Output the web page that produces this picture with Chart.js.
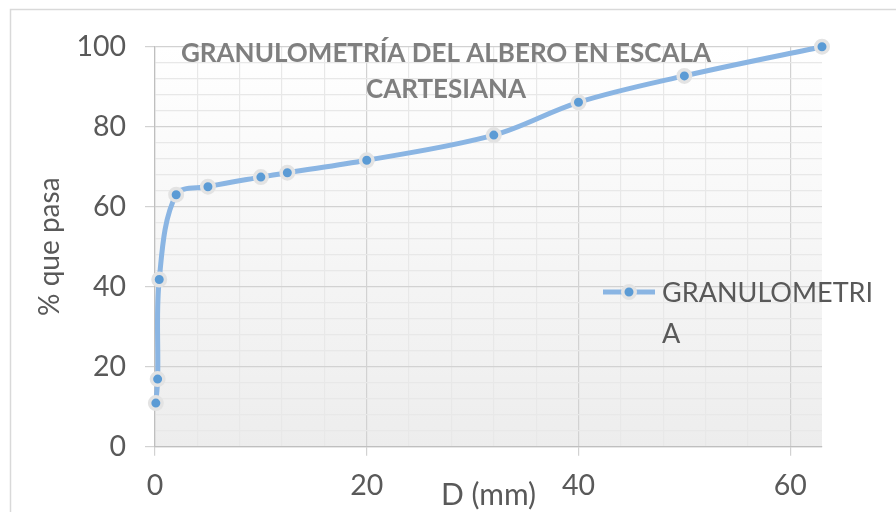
<!DOCTYPE html>
<html>
<head>
<meta charset="utf-8">
<script src="https://cdn.jsdelivr.net/npm/chart.js@4/dist/chart.umd.min.js"></script>
<style>
  html, body { margin: 0; padding: 0; background: #ffffff; }
  #wrap { position: relative; width: 896px; height: 512px; }
</style>
</head>
<body>
<div id="wrap"><canvas id="c" width="896" height="512"></canvas></div>
<script>
// Sieve openings (mm) and cumulative percentage passing
const sieveSizes = [0.08, 0.25, 0.4, 2, 5, 10, 12.5, 20, 32, 40, 50, 63];
const percentPassing = [10.9, 16.9, 41.8, 63.0, 65.0, 67.4, 68.5, 71.6, 77.9, 86.1, 92.7, 100];

// Labelled tick values
const xTickLabels = [0, 20, 40, 60];
const yTickLabels = [0, 20, 40, 60, 80, 100];

const seriesName = 'GRANULOMETRIA';
const titleLines = ['GRANULOMETRÍA DEL ALBERO EN ESCALA', 'CARTESIANA'];
const xTitle = 'D (mm)';
const yTitle = '% que pasa';

const FONT = 'Lato';
const TEXT = '#595959';
const LINE = '#8AB5E3';
const DOT = '#5B9BD5';
const RING = '#E3E3E3';
const MAJOR = '#D2D2D2';
const MINOR = '#E8E8E8';

const points = sieveSizes.map((x, i) => ({ x, y: percentPassing[i] }));

const gridColor = ctx => (ctx.tick && ctx.tick.value % 20 === 0) ? MAJOR : MINOR;
const tickMarkColor = ctx => (ctx.tick && ctx.tick.value % 20 === 0) ? MAJOR : 'rgba(0,0,0,0)';

// Frame, plot background gradient, title, axis title and legend
const decor = {
  id: 'decor',
  beforeDraw(chart) {
    const { ctx, chartArea: a } = chart;
    ctx.save();
    ctx.fillStyle = '#ffffff';
    ctx.fillRect(0, 0, chart.width, chart.height);
    ctx.strokeStyle = '#D9D9D9';
    ctx.lineWidth = 1.5;
    ctx.strokeRect(10.5, 9.5, chart.width + 20, chart.height + 20);
    const g = ctx.createLinearGradient(0, a.top, 0, a.bottom);
    g.addColorStop(0, '#FFFFFF');
    g.addColorStop(1, '#EDEDED');
    ctx.fillStyle = g;
    ctx.fillRect(a.left, a.top, a.right - a.left, a.bottom - a.top);
    ctx.restore();
  },
  afterDraw(chart) {
    const { ctx, chartArea: a } = chart;
    ctx.save();
    // chart title
    ctx.fillStyle = '#7F7F7F';
    ctx.font = 'bold 26px ' + FONT;
    ctx.textAlign = 'center';
    ctx.textBaseline = 'middle';
    ctx.fillText(titleLines[0], 446, 54);
    ctx.fillText(titleLines[1], 446, 90);

    // x axis title, centred on the plot
    ctx.fillStyle = TEXT;
    ctx.font = '30px ' + FONT;
    ctx.textBaseline = 'alphabetic';
    ctx.fillText(xTitle, (a.left + a.right) / 2, 505);

    // legend
    const ly = 292, lx0 = 603, lx1 = 655;
    ctx.strokeStyle = LINE;
    ctx.lineWidth = 5;
    ctx.beginPath();
    ctx.moveTo(lx0, ly);
    ctx.lineTo(lx1, ly);
    ctx.stroke();
    ctx.beginPath();
    ctx.arc((lx0 + lx1) / 2, ly, 6.25, 0, Math.PI * 2);
    ctx.fillStyle = DOT;
    ctx.fill();
    ctx.lineWidth = 3.5;
    ctx.strokeStyle = RING;
    ctx.stroke();
    ctx.fillStyle = TEXT;
    ctx.font = '27px ' + FONT;
    ctx.textAlign = 'left';
    ctx.textBaseline = 'middle';
    ctx.fillText(seriesName.slice(0, 12), 662, ly + 1);
    ctx.fillText(seriesName.slice(12), 662, ly + 42);
    ctx.restore();
  }
};

new Chart(document.getElementById('c'), {
  type: 'scatter',
  data: {
    datasets: [{
      label: seriesName,
      data: points,
      showLine: true,
      clip: false,
      tension: 0.35,
      borderColor: LINE,
      borderWidth: 5,
      pointRadius: 6.25,
      pointHoverRadius: 6.25,
      pointBorderWidth: 3.5,
      pointBackgroundColor: DOT,
      pointBorderColor: RING
    }]
  },
  options: {
    responsive: false,
    animation: false,
    devicePixelRatio: 1,
    layout: { padding: { left: 10, top: 46.7, right: 74, bottom: 0 } },
    plugins: {
      legend: { display: false },
      tooltip: { enabled: false },
      title: { display: false }
    },
    scales: {
      x: {
        type: 'linear',
        min: 0,
        max: 63,
        afterFit(s) { s.height = 65.3; },
        ticks: {
          stepSize: 4,
          includeBounds: false,
          autoSkip: false,
          maxRotation: 0,
          padding: 13,
          color: TEXT,
          font: { family: FONT, size: 28.5 },
          callback: v => xTickLabels.includes(v) ? String(v) : ''
        },
        grid: { color: gridColor, tickColor: tickMarkColor, tickLength: 9, lineWidth: 1.2 },
        border: { color: '#BFBFBF', width: 1.2 }
      },
      y: {
        type: 'linear',
        min: 0,
        max: 100,
        afterFit(s) { s.width = 145; },
        ticks: {
          stepSize: 4,
          autoSkip: false,
          padding: 19,
          color: TEXT,
          font: { family: FONT, size: 28.5 },
          callback: v => yTickLabels.includes(v) ? String(v) : ''
        },
        title: {
          display: true,
          text: yTitle,
          color: TEXT,
          font: { family: FONT, size: 28 },
          padding: { top: 23, bottom: 0 }
        },
        grid: { color: gridColor, tickColor: tickMarkColor, tickLength: 10, lineWidth: 1.2 },
        border: { color: '#BFBFBF', width: 1.2 }
      }
    }
  },
  plugins: [decor]
});
</script>
</body>
</html>
